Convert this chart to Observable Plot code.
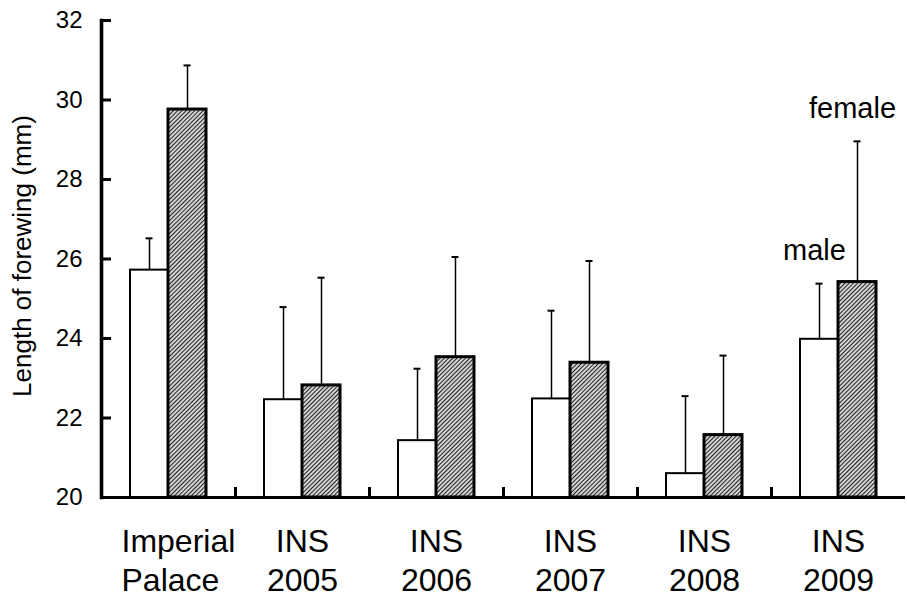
<!DOCTYPE html>
<html><head><meta charset="utf-8">
<script src="https://cdn.jsdelivr.net/npm/d3@7"></script>
<script src="https://cdn.jsdelivr.net/npm/@observablehq/plot@0.6"></script>
<style>body{margin:0;background:#fff}</style>
</head><body><div id="chart"></div>
<script>
const groups = ["Imperial Palace", "INS 2005", "INS 2006", "INS 2007", "INS 2008", "INS 2009"];
const groupLabels = ["Imperial\nPalace", "INS\n2005", "INS\n2006", "INS\n2007", "INS\n2008", "INS\n2009"];
const sexes = ["male", "female"];
const maleMean = [25.72, 22.46, 21.43, 22.48, 20.60, 23.98];
const maleSD = [0.80, 2.33, 1.81, 2.22, 1.95, 1.40];
const femaleMean = [29.76, 22.82, 23.53, 23.39, 21.57, 25.42];
const femaleSD = [1.11, 2.71, 2.52, 2.56, 2.00, 3.54];
const yTicks = [20, 22, 24, 26, 28, 30, 32];
const yLabel = "Length of forewing (mm)";

const rows = groups.flatMap((g, i) => [
  {group: g, sex: "male", mean: maleMean[i], sd: maleSD[i]},
  {group: g, sex: "female", mean: femaleMean[i], sd: femaleSD[i]}
]);
const labelRows = groups.map((g, i) => ({group: g, label: groupLabels[i]}));
const base = yTicks[0];
const font = "'Liberation Sans', Arial, Helvetica, sans-serif";
const labelStyle = {fx: "group", text: "label", frameAnchor: "bottom", lineAnchor: "top", dy: 26, fontSize: 32, lineHeight: 1.24};

const svg = Plot.plot({
  width: 907, height: 600,
  marginLeft: 99, marginRight: 0, marginTop: 20, marginBottom: 103,
  style: {fontFamily: font, background: "#fff", color: "#000", overflow: "visible"},
  fx: {domain: groups, padding: 0, axis: null},
  x: {domain: sexes, paddingOuter: 0.725, paddingInner: 0, axis: null},
  y: {domain: [yTicks[0], yTicks[yTicks.length - 1]], axis: null},
  marks: [
    Plot.barY(rows.filter(d => d.sex === "male"), {fx: "group", x: "sex", y1: base, y2: "mean", fill: "#fff", stroke: "#000", strokeWidth: 2}),
    Plot.barY(rows.filter(d => d.sex === "female"), {fx: "group", x: "sex", y1: base, y2: "mean", fill: "url(#hatch)", stroke: "#000", strokeWidth: 3}),
    Plot.ruleX(rows, {fx: "group", x: "sex", y1: "mean", y2: d => d.mean + d.sd, stroke: "#000", strokeWidth: 1.5}),
    Plot.tickY(rows, {fx: "group", x: "sex", y: d => d.mean + d.sd, stroke: "#000", strokeWidth: 2, insetLeft: 15.5, insetRight: 15.5}),
    Plot.ruleY([base], {stroke: "#000", strokeWidth: 3.2}),
    Plot.frame({anchor: "left", insetTop: 468, stroke: "#000", strokeWidth: 3}),
    Plot.frame({anchor: "left", stroke: "#000", strokeWidth: 3.6, facetAnchor: "left"}),
    Plot.axisY({ticks: yTicks, label: null, tickSize: -10, tickPadding: 29, stroke: "#000", strokeWidth: 3, fontSize: 24}),
    Plot.text([yLabel], {fx: () => groups[0], text: d => d, frameAnchor: "left", textAnchor: "middle", dx: -79, dy: -3, rotate: -90, fontSize: 26}),
    Plot.text(labelRows.slice(0, 1), {...labelStyle, textAnchor: "start", dx: -47}),
    Plot.text(labelRows.slice(1), labelStyle),
    Plot.text(rows.filter(d => d.group === groups[groups.length - 1]), {fx: "group", x: "sex", y: d => d.mean + d.sd, text: "sex", dy: -33, dx: -5, fontSize: 29})
  ]
});

const ns = "http://www.w3.org/2000/svg";
const defs = document.createElementNS(ns, "defs");
defs.innerHTML = '<pattern id="hatch" patternUnits="userSpaceOnUse" width="3" height="3" patternTransform="rotate(45)"><rect width="3" height="3" fill="#fff"/><line x1="1.5" y1="0" x2="1.5" y2="3" stroke="#222" stroke-width="1.4"/></pattern>';
svg.insertBefore(defs, svg.firstChild);
document.getElementById("chart").appendChild(svg);
</script>
</body></html>
